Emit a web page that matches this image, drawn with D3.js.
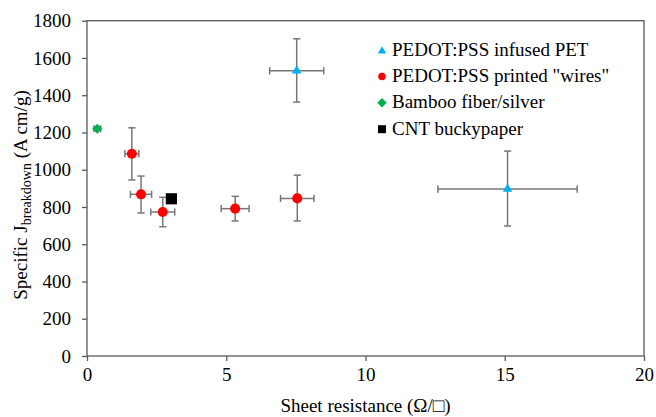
<!DOCTYPE html>
<html><head><meta charset="utf-8">
<script src="https://cdn.jsdelivr.net/npm/d3@7"></script>
<style>body{margin:0;background:#fff;} svg{display:block;}</style>
</head><body>
<svg id="c" width="656" height="417" font-family="Liberation Serif, Times New Roman, serif"></svg>
<script>
// Data: x, y, symmetric x error, y error low/high bounds
const seriesNames = ["PEDOT:PSS infused PET", "PEDOT:PSS printed \"wires\"", "Bamboo fiber/silver", "CNT buckypaper"];
const seriesColors = ["#00B0F0", "#FF0000", "#00B050", "#000000"];
const seriesShapes = ["triangle", "circle", "diamond", "square"];
const pedotPET = [
  {x: 7.53, y: 1531, xe: 0.97, yl: 1363, yh: 1703},
  {x: 15.1, y: 896, xe: 2.5, yl: 698, yh: 1100}
];
const pedotWires = [
  {x: 1.61, y: 1086, xe: 0.25, yl: 945, yh: 1225},
  {x: 1.94, y: 868, xe: 0.38, yl: 768, yh: 966},
  {x: 2.72, y: 773, xe: 0.43, yl: 694, yh: 852},
  {x: 5.32, y: 791, xe: 0.5, yl: 725, yh: 857},
  {x: 7.55, y: 846, xe: 0.6, yl: 725, yh: 971}
];
const bamboo = [{x: 0.37, y: 1220, xe: 0.12, yl: 1220, yh: 1220}];
const cnt = [{x: 3.03, y: 844, xe: 0, yl: 844, yh: 844}];
const allSeries = [pedotPET, pedotWires, bamboo, cnt];
const xTicks = [0, 5, 10, 15, 20];
const yTicks = [0, 200, 400, 600, 800, 1000, 1200, 1400, 1600, 1800];

const FONT = "Liberation Serif, Times New Roman, serif";
const svg = d3.select("#c");
const L = 87, R = 644, T = 20.7, B = 356;
const x = d3.scaleLinear().domain([0, 20]).range([L, R]);
const y = d3.scaleLinear().domain([0, 1800]).range([B, T]);
const axisCol = "#595959";

// frame
svg.append("rect").attr("x", L).attr("y", T).attr("width", R - L).attr("height", B - T)
  .attr("fill", "none").attr("stroke", axisCol).attr("stroke-width", 1.3);

const xa = svg.append("g").attr("transform", `translate(0,${B})`)
  .call(d3.axisBottom(x).tickValues(xTicks).tickFormat(d3.format("d")).tickSize(5).tickPadding(7));
const ya = svg.append("g").attr("transform", `translate(${L},0)`)
  .call(d3.axisLeft(y).tickValues(yTicks).tickFormat(d3.format("d")).tickSize(5).tickPadding(11));
[xa, ya].forEach(a => {
  a.attr("font-family", FONT).attr("font-size", 19);
  a.select(".domain").remove();
  a.selectAll(".tick line").attr("stroke", axisCol).attr("stroke-width", 1.3);
  a.selectAll(".tick text").attr("fill", "#000");
});

// error bars
const errCol = "#777777";
const cap = 3.6;
allSeries.forEach(data => {
  const g = svg.append("g").attr("stroke", errCol).attr("stroke-width", 1.5).attr("fill", "none");
  data.forEach(d => {
    if (d.yh > d.yl) {
      g.append("line").attr("x1", x(d.x)).attr("x2", x(d.x)).attr("y1", y(d.yl)).attr("y2", y(d.yh));
      g.append("line").attr("x1", x(d.x) - cap).attr("x2", x(d.x) + cap).attr("y1", y(d.yl)).attr("y2", y(d.yl));
      g.append("line").attr("x1", x(d.x) - cap).attr("x2", x(d.x) + cap).attr("y1", y(d.yh)).attr("y2", y(d.yh));
    }
    if (d.xe > 0) {
      g.append("line").attr("x1", x(d.x - d.xe)).attr("x2", x(d.x + d.xe)).attr("y1", y(d.y)).attr("y2", y(d.y));
      g.append("line").attr("x1", x(d.x - d.xe)).attr("x2", x(d.x - d.xe)).attr("y1", y(d.y) - cap).attr("y2", y(d.y) + cap);
      g.append("line").attr("x1", x(d.x + d.xe)).attr("x2", x(d.x + d.xe)).attr("y1", y(d.y) - cap).attr("y2", y(d.y) + cap);
    }
  });
});

const symMap = {triangle: d3.symbolTriangle, circle: d3.symbolCircle, diamond: d3.symbolSquare, square: d3.symbolSquare};
const rotMap = {triangle: 0, circle: 0, diamond: 45, square: 0};
const sizeMap = {triangle: 40, circle: 80, diamond: 52, square: 125};
allSeries.forEach((data, i) => {
  const sh = seriesShapes[i];
  svg.append("g").selectAll("path").data(data).join("path")
    .attr("d", d3.symbol().type(symMap[sh]).size(sizeMap[sh])())
    .attr("transform", d => `translate(${x(d.x)},${y(d.y)}) rotate(${rotMap[sh]})`)
    .attr("fill", seriesColors[i]);
});

// legend
const lg = svg.append("g");
const legSize = {triangle: 30, circle: 44, diamond: 45, square: 64};
seriesNames.forEach((n, i) => {
  const cy = 50 + i * 26.4;
  const sh = seriesShapes[i];
  lg.append("path").attr("d", d3.symbol().type(symMap[sh]).size(legSize[sh])())
    .attr("transform", `translate(382,${cy + (sh === "triangle" ? 1 : 0)}) rotate(${rotMap[sh]})`).attr("fill", seriesColors[i]);
  lg.append("text").attr("x", 392).attr("y", cy + 5.5).text(n)
    .attr("font-family", FONT).attr("font-size", 19).attr("fill", "#000");
});

// axis titles
svg.append("text").attr("x", (L + R) / 2).attr("y", 411.5).attr("text-anchor", "middle")
  .attr("font-family", FONT).attr("font-size", 19).text("Sheet resistance (Ω/□)");
const yl = svg.append("text").attr("transform", `translate(27,195) rotate(-90)`)
  .attr("text-anchor", "middle").attr("font-family", FONT).attr("font-size", 19);
yl.append("tspan").text("Specific J");
const sub = yl.append("tspan").attr("dy", 4).attr("font-size", 14).text("breakdown");
yl.append("tspan").attr("dy", -4).text(" (A cm/g)");
</script>
</body></html>
